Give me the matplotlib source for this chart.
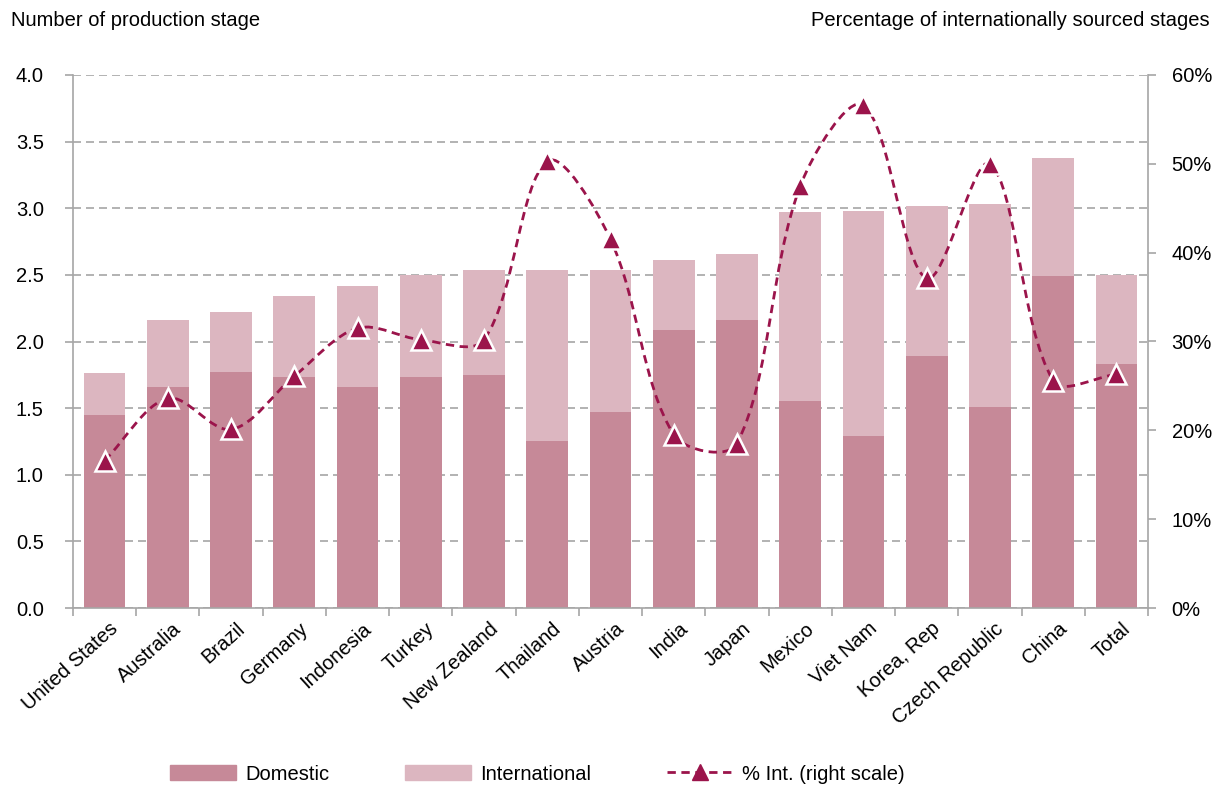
import numpy as np
import matplotlib.pyplot as plt
import matplotlib.transforms as mtransforms
from matplotlib.path import Path
from matplotlib.patches import PathPatch, Patch
from matplotlib.lines import Line2D
from matplotlib.ticker import FuncFormatter

plt.rcParams['font.family'] = ['Liberation Sans', 'DejaVu Sans']

# data
countries = ['United States', 'Australia', 'Brazil', 'Germany', 'Indonesia', 'Turkey',
             'New Zealand', 'Thailand', 'Austria', 'India', 'Japan', 'Mexico',
             'Viet Nam', 'Korea, Rep', 'Czech Republic', 'China', 'Total']
domestic = [1.45, 1.66, 1.77, 1.73, 1.66, 1.73, 1.75, 1.25, 1.47, 2.09, 2.16, 1.55,
            1.29, 1.89, 1.51, 2.49, 1.83]
total = [1.76, 2.16, 2.22, 2.34, 2.42, 2.50, 2.54, 2.54, 2.54, 2.61, 2.66, 2.97,
         2.98, 3.02, 3.03, 3.38, 2.50]
pct_int = [16.6, 23.6, 20.1, 26.1, 31.5, 30.2, 30.2, 50.3, 41.5, 19.5, 18.5, 47.5,
           56.6, 37.1, 50.0, 25.6, 26.3]

dom_color = '#c68998'
int_color = '#dcb6c0'
line_color = '#9b144b'
axis_gray = '#a6a6a6'
fs = 14.5

international = np.array(total) - np.array(domestic)
x = np.arange(len(countries))

fig = plt.figure(figsize=(12.21, 7.87), dpi=100)
ax = fig.add_axes([73 / 1221, 1 - 608 / 787, 1075 / 1221, 533 / 787])

# stacked bars
ax.bar(x, domestic, width=0.66, color=dom_color, zorder=2)
ax.bar(x, international, width=0.66, bottom=domestic, color=int_color, zorder=2)

ax.set_xlim(-0.5, len(countries) - 0.5)
ax.set_ylim(0, 4)
ax.set_yticks(np.arange(0, 4.01, 0.5))
ax.yaxis.set_major_formatter(FuncFormatter(lambda v, p: f'{v:.1f}'))
ax.grid(axis='y', color=axis_gray, linestyle=(0, (4.8, 3)), linewidth=1.2, zorder=0)
ax.set_axisbelow(True)

# category boundaries as ticks, names on minor ticks
ax.set_xticks(np.arange(-0.5, len(countries), 1.0))
ax.set_xticklabels([])
ax.set_xticks(x, minor=True)
ax.set_xticklabels(countries, minor=True, rotation=42, ha='right', va='center',
                   rotation_mode='anchor', fontsize=fs)
ax.tick_params(axis='x', which='major', length=6, color=axis_gray, width=1.2)
ax.tick_params(axis='x', which='minor', length=0, pad=13)
ax.tick_params(axis='y', length=6, color=axis_gray, width=1.2, labelsize=fs, pad=15)
shift = mtransforms.ScaledTranslation(8 / 72, 0, fig.dpi_scale_trans)
for lab in ax.get_xticklabels(minor=True):
    lab.set_transform(lab.get_transform() + shift)

for side in ['top', 'right']:
    ax.spines[side].set_visible(False)
for side in ['left', 'bottom']:
    ax.spines[side].set_color(axis_gray)
    ax.spines[side].set_linewidth(1.2)

# right axis for share of international stages
ax2 = ax.twinx()
ax2.set_ylim(0, 60)
ax2.set_yticks(np.arange(0, 61, 10))
ax2.yaxis.set_major_formatter(FuncFormatter(lambda v, p: f'{v:.0f}%'))
ax2.tick_params(axis='y', length=6, color=axis_gray, width=1.2, labelsize=fs, pad=11)
for side in ['top', 'left', 'bottom']:
    ax2.spines[side].set_visible(False)
ax2.spines['right'].set_color(axis_gray)
ax2.spines['right'].set_linewidth(1.2)

# smoothed line: bezier segments, tangents weighted by on-screen segment lengths
pts = np.column_stack([x, pct_int]).astype(float)
scr = ax2.transData.transform(pts)
n = len(pts)
verts = [tuple(pts[0])]
codes = [Path.MOVETO]
for i in range(n - 1):
    i0, i3 = max(i - 1, 0), min(i + 2, n - 1)
    l01 = np.hypot(*(scr[i] - scr[i0]))
    l12 = np.hypot(*(scr[i + 1] - scr[i]))
    l23 = np.hypot(*(scr[i3] - scr[i + 1]))
    c1 = pts[i] + (pts[i + 1] - pts[i0]) * l12 / (l01 + l12) / 3.0
    c2 = pts[i + 1] - (pts[i3] - pts[i]) * l12 / (l12 + l23) / 3.0
    verts += [tuple(c1), tuple(c2), tuple(pts[i + 1])]
    codes += [Path.CURVE4, Path.CURVE4, Path.CURVE4]
curve = PathPatch(Path(verts, codes), facecolor='none', edgecolor=line_color,
                  linewidth=2, linestyle=(0, (3, 2)), zorder=3)
ax2.add_patch(curve)
ax2.plot(x, pct_int, linestyle='none', marker='^', markersize=14,
         markerfacecolor=line_color, markeredgecolor='white', markeredgewidth=1.8,
         zorder=4)

# axis titles
fig.text(11 / 1221, 1 - 21 / 787, 'Number of production stage', fontsize=fs,
         ha='left', va='center')
fig.text(1210 / 1221, 1 - 21 / 787, 'Percentage of internationally sourced stages',
         fontsize=fs, ha='right', va='center')

# legend
handles = [Patch(color=dom_color), Patch(color=int_color),
           Line2D([], [], color=line_color, linestyle=(0, (3, 2)), linewidth=2,
                  marker='^', markersize=12, markerfacecolor=line_color,
                  markeredgecolor=line_color)]
fig.legend(handles, ['Domestic', 'International', '% Int. (right scale)'],
           loc='center', bbox_to_anchor=(0.44, 0.0165), ncol=3, frameon=False,
           fontsize=fs, handlelength=3.3, handleheight=0.8, columnspacing=3.75,
           handletextpad=0.45)

fig.savefig('out.png', dpi=100)
